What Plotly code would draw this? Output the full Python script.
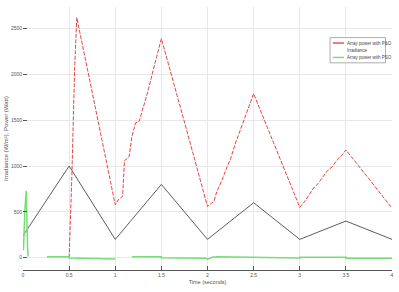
import plotly.graph_objects as go

# Irradiance profile (W/m^2)
irr_t = [0, 0.5, 1.0, 1.5, 2.0, 2.5, 3.0, 3.5, 4.0]
irr_v = [240, 1000, 200, 800, 200, 600, 200, 400, 200]

# Array power with P&O (W)
po_t = [0.50, 0.53, 0.56, 0.583, 0.70, 0.85, 1.0, 1.03, 1.08, 1.10, 1.15, 1.18, 1.22, 1.26,
        1.35, 1.42, 1.5, 1.75, 2.0, 2.05, 2.07, 2.10, 2.15, 2.20, 2.25, 2.30, 2.35, 2.40, 2.45,
        2.5, 2.75, 3.0, 3.05, 3.10, 3.15, 3.20, 3.25, 3.30, 3.35, 3.40, 3.45, 3.5, 3.75, 4.0]
po_v = [0, 900, 2070, 2620, 2050, 1320, 577, 630, 668, 1060, 1100, 1320, 1470, 1490,
        1800, 2080, 2390, 1480, 558, 600, 613, 720, 830, 960, 1080, 1240, 1380, 1520, 1650,
        1790, 1170, 550, 610, 680, 760, 810, 880, 950, 990, 1060, 1110, 1176, 860, 540]

# Array power with PSO (W)
pso_t = [0.005, 0.01, 0.02, 0.035, 0.04, 0.05, 0.055, None, 0.26, 0.5, 0.5, 0.95, 1.0, None,
         1.18, 1.5, 1.5, 1.98, 2.0, 2.05, 2.1, 2.5, 2.5, 3.0, 3.0, 3.5, 3.5, 4.0]
pso_v = [80, 300, 520, 730, 400, 100, 15, None, 10, 10, -2, -8, -15, None,
         10, 10, 0, -5, -15, 5, 10, 8, 0, -2, 5, 5, -5, -5]

x_ticks = [0, 0.5, 1, 1.5, 2, 2.5, 3, 3.5, 4]
x_labels = ["0", "0.5", "1", "1.5", "2", "2.5", "3", "3.5", "4"]
y_ticks = [0, 500, 1000, 1500, 2000, 2500]
y_labels = ["0", "500", "1000", "1500", "2000", "2500"]

legend_names = ["Array power with P&O", "Irradiance", "Array power with PSO"]
red = "#e64444"
black = "#4a4a4a"
green = "#74de74"

fig = go.Figure()
fig.add_trace(go.Scatter(x=irr_t, y=irr_v, mode="lines", name=legend_names[1],
                         line=dict(color=black, width=0.9)))
fig.add_trace(go.Scatter(x=po_t, y=po_v, mode="lines", name=legend_names[0],
                         line=dict(color=red, width=1, dash="4px,1.5px")))
fig.add_trace(go.Scatter(x=pso_t, y=pso_v, mode="lines", name=legend_names[2],
                         line=dict(color=green, width=1.5), connectgaps=False))

font = "Liberation Sans, Arial, sans-serif"
fig.update_layout(
    width=399, height=292,
    margin=dict(l=23, r=5, t=7, b=22),
    paper_bgcolor="white", plot_bgcolor="white",
    showlegend=False,
    font=dict(family=font, size=5, color="#444"),
    xaxis=dict(range=[0, 4], tickvals=x_ticks, ticktext=x_labels,
               showgrid=True, gridcolor="#e8e8e8", gridwidth=1,
               zeroline=False, showline=True, linecolor="#555", linewidth=1,
               ticks="inside", ticklen=4, tickcolor="#555",
               tickfont=dict(size=5, color="#555"),
               title=dict(text="Time (seconds)", font=dict(size=5.5, color="#555"), standoff=3)),
    yaxis=dict(range=[-134, 2735], tickvals=y_ticks, ticktext=y_labels,
               showgrid=True, gridcolor="#e8e8e8", gridwidth=1,
               zeroline=False, showline=False,
               ticks="inside", ticklen=4, tickcolor="#555",
               tickfont=dict(size=5, color="#555"),
               title=dict(text="Irradiance (W/m²), Power (Watt)",
                          font=dict(size=6, color="#555"), standoff=1)),
)

# Manual compact legend box (paper coordinates)
def px_x(p):
    return p / 399.0

def px_y(p):
    return 1 - p / 292.0

fig.add_shape(type="rect", xref="paper", yref="paper",
              x0=px_x(332), x1=px_x(392), y0=px_y(62), y1=px_y(34),
              line=dict(color="#999", width=0.8), fillcolor="white", layer="above")
leg_colors = [red, None, green]
leg_rows = [40, 48, 56]
for name, col, row in zip(legend_names, leg_colors, leg_rows):
    if col:
        fig.add_shape(type="line", xref="paper", yref="paper",
                      x0=px_x(335), x1=px_x(347), y0=px_y(row), y1=px_y(row),
                      line=dict(color=col, width=1.4), layer="above")
    fig.add_annotation(x=px_x(348), y=px_y(row), xref="paper", yref="paper",
                       text=name, showarrow=False, xanchor="left", yanchor="middle",
                       font=dict(size=4.5, color="#444", family=font))

fig.write_html("out.html")
